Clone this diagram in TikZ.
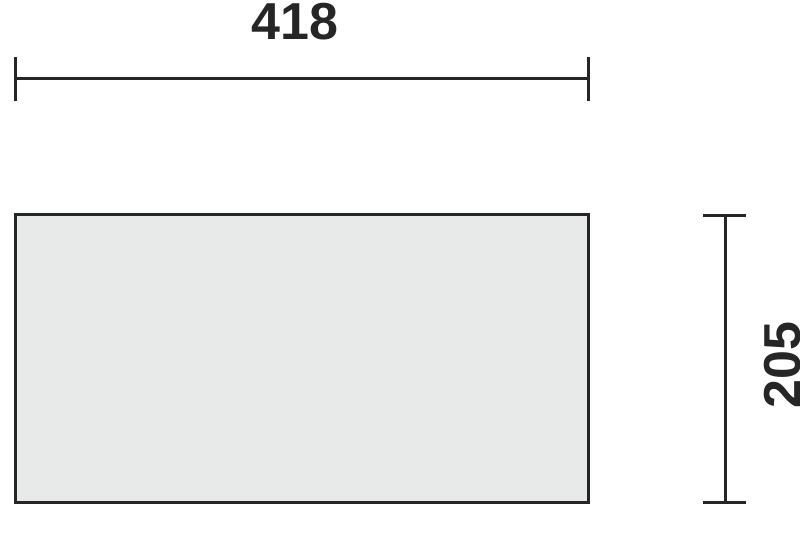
\documentclass[tikz,border=0pt]{standalone}
\usepackage{fontspec}
\setmainfont{Liberation Sans}
\definecolor{boxfill}{HTML}{E8E9E9}
\definecolor{ink}{HTML}{262626}
\tikzset{
  dimline/.style={draw=ink, line width=3pt},
  boxshape/.style={draw=ink, fill=boxfill, line width=3pt},
  dimtext/.style={font=\fontsize{52}{60}\selectfont\bfseries, text=ink, inner sep=0pt}
}
\begin{document}
\begin{tikzpicture}[x=1pt,y=-1pt]
\useasboundingbox (0,0) rectangle (800,537);
% rectangle
\draw[boxshape] (15,215) rectangle (588,502);
% top dimension
\coordinate (tl) at (15,79);
\coordinate (tr) at (588,79);
\draw[dimline] (tl) -- (tr);
\draw[dimline] (15,57) -- (15,101);
\draw[dimline] (588,57) -- (588,101);
\node[dimtext, anchor=base] (w) at (295,40) {418};
% right dimension
\coordinate (rt) at (725,216);
\coordinate (rb) at (725,502);
\draw[dimline] (rt) -- (rb);
\draw[dimline] (703,216) -- (746,216);
\draw[dimline] (703,502) -- (746,502);
\node[dimtext, anchor=base, rotate=90] (h) at (800,365) {205};
\end{tikzpicture}
\end{document}
